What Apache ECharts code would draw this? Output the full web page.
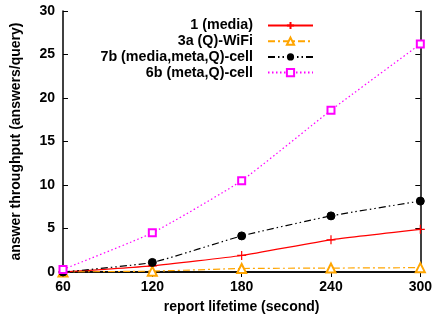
<!DOCTYPE html>
<html><head><meta charset="utf-8">
<script src="https://cdn.jsdelivr.net/npm/echarts@6/dist/echarts.min.js"></script>
<style>html,body{margin:0;padding:0;background:#fff}#c{width:435px;height:322px}</style>
</head><body><div id="c"></div>
<script>
const lifetimes = [60, 120, 180, 240, 300];
const media1 = [0, 0.7, 1.9, 3.7, 4.9];
const wifi3a = [0, 0.1, 0.4, 0.45, 0.5];
const cell7b = [0, 1.1, 4.15, 6.45, 8.15];
const cell6b = [0.3, 4.5, 10.5, 18.6, 26.2];
const seriesNames = ['1 (media)', '3a (Q)-WiFi', '7b (media,meta,Q)-cell', '6b (meta,Q)-cell'];

const pair = v => lifetimes.map((x, i) => [x, v[i]]);
const font = 'Liberation Sans, Arial, sans-serif';
const chart = echarts.init(document.getElementById('c'));
const axisCommon = {
  axisLine: {show: true, lineStyle: {color: '#000', width: 1.5}},
  axisTick: {show: true, inside: true, length: 5, lineStyle: {color: '#000', width: 1}},
  splitLine: {show: false}
};
const labelStyle = {fontFamily: font, fontWeight: 'bold', fontSize: 14, color: '#000'};
chart.setOption({
  animation: false,
  grid: {left: 63, right: 14, top: 11, bottom: 50},
  legend: {
    orient: 'vertical', right: 116, top: 13, align: 'right',
    itemWidth: 45, itemHeight: 9, itemGap: 0.7,
    textStyle: {fontFamily: font, fontWeight: 'bold', fontSize: 14.3, lineHeight: 15, color: '#000', padding: [0, 10, 0, 0]},
    data: seriesNames
  },
  xAxis: [
    Object.assign({type: 'value', min: 60, max: 300, interval: 60, position: 'bottom',
      name: 'report lifetime (second)', nameLocation: 'middle', nameGap: 28,
      nameTextStyle: labelStyle,
      axisLabel: Object.assign({margin: 8}, labelStyle)}, axisCommon),
    Object.assign({type: 'value', min: 60, max: 300, interval: 60, position: 'top',
      axisLabel: {show: false}}, axisCommon)
  ],
  yAxis: [
    Object.assign({type: 'value', min: 0, max: 30, interval: 5, position: 'left',
      name: 'answer throughput (answers/query)', nameLocation: 'middle', nameGap: 40,
      nameTextStyle: labelStyle,
      axisLabel: Object.assign({margin: 8}, labelStyle)}, axisCommon),
    Object.assign({type: 'value', min: 0, max: 30, interval: 5, position: 'right',
      axisLabel: {show: false}}, axisCommon)
  ],
  series: [
    {name: seriesNames[0], type: 'line', data: pair(media1), smooth: 0.15,
     symbol: 'path://M0,5L10,5M5,0L5,10', symbolSize: 9,
     lineStyle: {color: '#ff0000', width: 1.2},
     itemStyle: {color: 'none', borderColor: '#ff0000', borderWidth: 1.2}},
    {name: seriesNames[1], type: 'line', data: pair(wifi3a), smooth: 0.15,
     symbol: 'emptyTriangle', symbolSize: 9,
     lineStyle: {color: '#ffa500', width: 1.2, type: [7, 3, 2, 3]},
     itemStyle: {color: '#ffa500', borderColor: '#ffa500', borderWidth: 1.2}},
    {name: seriesNames[2], type: 'line', data: pair(cell7b), smooth: 0.15,
     symbol: 'circle', symbolSize: 8,
     lineStyle: {color: '#000', width: 1.2, type: [7, 3, 1.5, 3, 1.5, 3]},
     itemStyle: {color: '#000', borderColor: '#000'}},
    {name: seriesNames[3], type: 'line', data: pair(cell6b), smooth: 0.15,
     symbol: 'emptyRect', symbolSize: 7,
     lineStyle: {color: '#ff00ff', width: 1.2, type: [1.5, 2.5]},
     itemStyle: {color: '#ff00ff', borderColor: '#ff00ff', borderWidth: 1.2}}
  ]
});
</script></body></html>
